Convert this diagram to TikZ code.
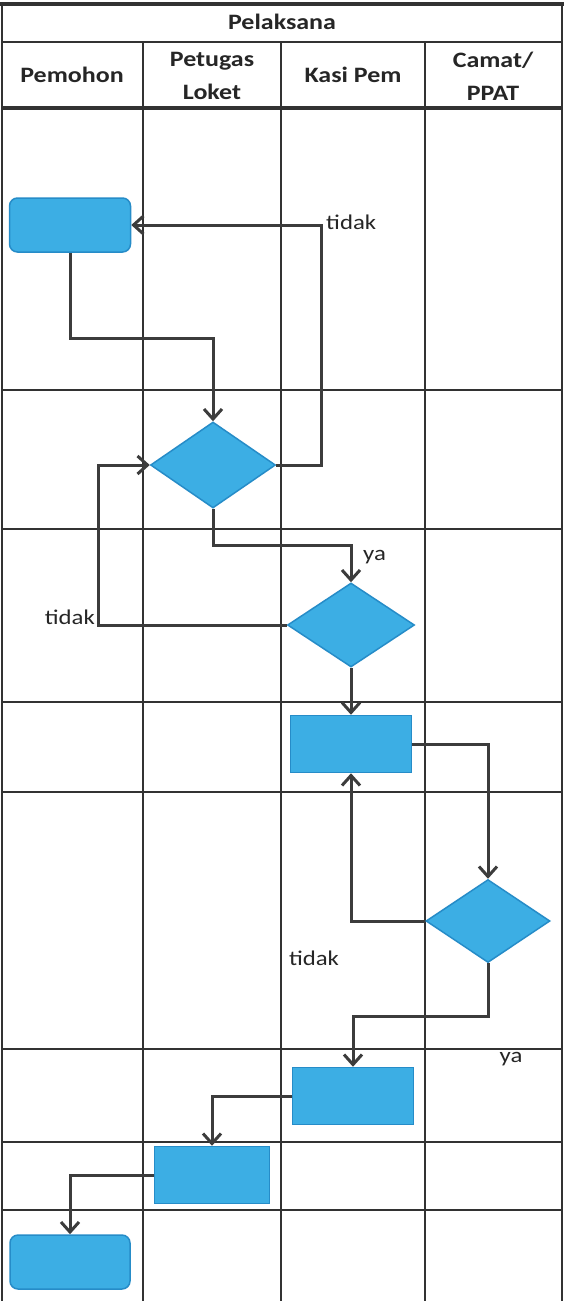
\documentclass[tikz,border=0pt]{standalone}
\usepackage{fontspec}
\setmainfont{Carlito}[FakeStretch=1.18]
\usetikzlibrary{arrows.meta,shapes.geometric}
\definecolor{boxfill}{RGB}{60,174,228}
\definecolor{boxline}{RGB}{38,140,200}
\definecolor{gridc}{RGB}{50,50,50}
\definecolor{conc}{RGB}{60,60,60}
\tikzset{
  gridline/.style={draw=gridc, line width=2.2pt},
  procbox/.style={draw=boxline, fill=boxfill, line width=1.5pt, rectangle, inner sep=0pt},
  roundbox/.style={procbox, rounded corners=8pt},
  decision/.style={draw=boxline, fill=boxfill, line width=1.5pt, diamond, inner sep=0pt},
  flow/.style={draw=conc, line width=3pt, -{Straight Barb[length=10pt,width=18pt]}},
  headtext/.style={font=\fontsize{22}{33}\selectfont\bfseries, text=black!85, align=center},
  lbl/.style={font=\fontsize{21}{25}\selectfont, text=black!85, inner sep=0pt}
}
\begin{document}
\begin{tikzpicture}[x=1pt,y=-1pt]
\useasboundingbox (0,0) rectangle (564,1301);
\fill[white] (0,0) rectangle (564,1301);
% grid
\draw[gridline, line width=4.5pt] (0,4) -- (564,4);
\draw[gridline] (2,4) -- (2,1301);
\draw[gridline] (562,4) -- (562,1301);
\draw[gridline] (2,42) -- (562,42);
\draw[gridline, line width=3.5pt] (2,108) -- (562,108);
\foreach \yy in {390,529,702,792,1049,1142,1210}
  \draw[gridline] (2,\yy) -- (562,\yy);
\foreach \xx in {143,281,425}
  \draw[gridline] (\xx,42) -- (\xx,1301);
% header
\node[headtext] (hpel) at (282,22) {Pelaksana};
\node[headtext] (hpem) at (72,75) {Pemohon};
\node[headtext] (hpet) at (212,76) {Petugas\\Loket};
\node[headtext] (hkas) at (353,75) {Kasi Pem};
\node[headtext] (hcam) at (493,76) {Camat/\\PPAT};
% shapes
\node[roundbox, minimum width=121pt, minimum height=54pt] (r1) at (70,225) {};
\node[decision, minimum width=125pt, minimum height=86pt] (d1) at (213,465) {};
\node[decision, minimum width=127pt, minimum height=84pt] (d2) at (351,625) {};
\node[procbox, minimum width=121pt, minimum height=57pt] (p1) at (351,744) {};
\node[decision, minimum width=124pt, minimum height=83pt] (d3) at (488,921) {};
\node[procbox, minimum width=121pt, minimum height=57pt] (p2) at (353,1096) {};
\node[procbox, minimum width=115pt, minimum height=57pt] (p3) at (212,1175) {};
\node[roundbox, minimum width=120pt, minimum height=54pt] (r2) at (70,1262) {};
% connectors
\draw[flow] (r1.south) -- ++(0,86) -| (d1.north);
\draw[flow] (d1.east) -- ++(45,0) |- (r1.east);
\draw[flow] (d1.south) -- ++(0,37) -| (d2.north);
\draw[flow] (d2.west) -- ++(-188,0) |- (d1.west);
\draw[flow] (d2.south) -- (p1.north);
\draw[flow] (p1.east) -| (d3.north);
\draw[flow] (d3.west) -| (p1.south);
\draw[flow] (d3.south) -- ++(0,53) -| (p2.north);
\draw[flow] (p2.west) -| (p3.north);
\draw[flow] (p3.west) -| (r2.north);
% labels
\node[lbl, anchor=west] (l1) at (326,222) {tidak};
\node[lbl, anchor=west] (l2) at (363,557) {ya};
\node[lbl, anchor=east] (l3) at (95,617) {tidak};
\node[lbl] (l4) at (314,958) {tidak};
\node[lbl] (l5) at (511,1059) {ya};
\end{tikzpicture}
\end{document}
